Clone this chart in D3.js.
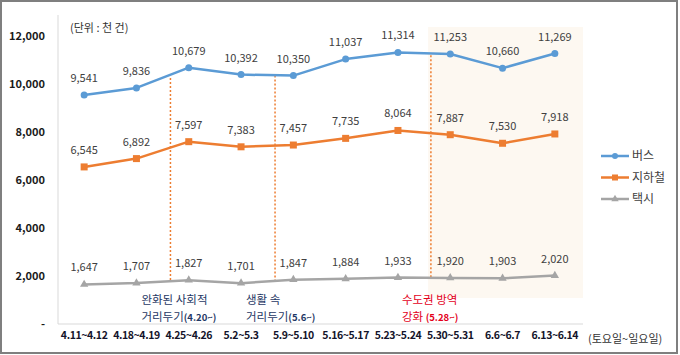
<!DOCTYPE html>
<html><head><meta charset="utf-8">
<script src="https://cdn.jsdelivr.net/npm/d3@7"></script>
<style>
html,body{margin:0;padding:0;background:#fff;}
text{font-family:"Noto Sans CJK KR","Noto Sans",sans-serif;}
</style></head>
<body>
<svg id="chart" width="680" height="355"></svg>
<script>
const categories = ["4.11~4.12","4.18~4.19","4.25~4.26","5.2~5.3","5.9~5.10","5.16~5.17","5.23~5.24","5.30~5.31","6.6~6.7","6.13~6.14"];
const bus    = [9541, 9836, 10679, 10392, 10350, 11037, 11314, 11253, 10660, 11269];
const subway = [6545, 6892, 7597, 7383, 7457, 7735, 8064, 7887, 7530, 7918];
const taxi   = [1647, 1707, 1827, 1701, 1847, 1884, 1933, 1920, 1903, 2020];
const yTicks = [0, 2000, 4000, 6000, 8000, 10000, 12000];
const seriesNames = ["버스", "지하철", "택시"];
// annotations: position as fractional category index, line top/bottom in data units
const events = [
  {pos: 1.65, topV: 10250, bottomV: 1750, lines: ["완화된 사회적", "거리두기"], note: "(4.20~)", color: "#1f3864"},
  {pos: 3.65, topV: 10350, bottomV: 1750, lines: ["생활 속", "거리두기"], note: "(5.6~)", color: "#1f3864"},
  {pos: 6.63, topV: 11200, bottomV: 1950, lines: ["수도권 방역", "강화 "], note: "(5.28~)", color: "#e3001b"}
];

(function(){
const svg = d3.select("#chart");
const W = 680, H = 355;
const pL = 58, pR = 581, pT = 15, pB = 324;

svg.append("rect").attr("x",1).attr("y",1).attr("width",W-4).attr("height",H-3)
  .attr("fill","#fff").attr("stroke","#7f7f7f").attr("stroke-width",2);

const x = d3.scaleBand().domain(categories).range([pL, pR]).padding(0);
const bw = x.bandwidth();
const cx = c => x(c) + bw/2;
const xi = d3.scaleLinear().domain([0, categories.length-1]).range([cx(categories[0]), cx(categories[categories.length-1])]);
const y = d3.scaleLinear().domain([0, 12000]).range([pB, pB - 12000*0.024]);

// shaded region
svg.append("rect")
  .attr("x", x(categories[7]) + 4).attr("y", 27)
  .attr("width", pR + 2 - (x(categories[7]) + 4)).attr("height", 298 - 27)
  .attr("fill", "#fdf8f1");

// axes
svg.append("line").attr("x1",pL).attr("x2",pL).attr("y1",pT).attr("y2",pB)
  .attr("stroke","#d9d9d9").attr("stroke-width",1);
svg.append("line").attr("x1",pL).attr("x2",pR+2).attr("y1",pB).attr("y2",pB)
  .attr("stroke","#d9d9d9").attr("stroke-width",1);

const yAxis = d3.axisLeft(y).tickValues(yTicks).tickSize(0)
  .tickFormat(d => d === 0 ? "-" : d3.format(",")(d));
const yg = svg.append("g").attr("transform", `translate(${pL-13},0)`).call(yAxis);
yg.select(".domain").remove();
yg.selectAll("text").attr("font-size", 11).attr("font-weight", "bold").attr("fill", "#1a1a1a").attr("dy","0.35em").attr("x",0);

const xAxis = d3.axisBottom(x).tickSize(0);
const xg = svg.append("g").attr("transform", `translate(0,${pB+8})`).call(xAxis);
xg.select(".domain").remove();
xg.selectAll("text").attr("font-size", 10.5).attr("letter-spacing", "-0.4px").attr("font-weight", "bold").attr("fill", "#14142b").attr("dy","0.71em").attr("y",0);

svg.append("text").attr("x", 588).attr("y", 343).attr("font-size", 11).attr("fill", "#333")
  .text("(토요일~일요일)");
svg.append("text").attr("x", 70).attr("y", 32).attr("font-size", 11).attr("fill", "#333")
  .text("(단위 : 천 건)");

// event dashed lines
events.forEach(e => {
  const px = xi(e.pos);
  svg.append("line").attr("x1",px).attr("x2",px).attr("y1",y(e.topV)).attr("y2",y(e.bottomV))
    .attr("stroke","#ed7d31").attr("stroke-width",1.5).attr("stroke-dasharray","2,2");
});

const colors = ["#5b9bd5", "#ed7d31", "#a5a5a5"];
const allSeries = [bus, subway, taxi];
const line = d3.line().x((d,i) => cx(categories[i])).y(d => y(d));

allSeries.forEach((s, k) => {
  const g = svg.append("g");
  g.append("path").datum(s).attr("d", line).attr("fill","none")
    .attr("stroke", colors[k]).attr("stroke-width", 2.5).attr("stroke-linejoin","round");
  s.forEach((v, i) => {
    const px = cx(categories[i]), py = y(v);
    if (k === 0) g.append("circle").attr("cx",px).attr("cy",py).attr("r",3.5).attr("fill",colors[k]);
    else if (k === 1) g.append("rect").attr("x",px-3.5).attr("y",py-3.5).attr("width",7).attr("height",7).attr("fill",colors[k]);
    else g.append("path").attr("d", d3.symbol(d3.symbolTriangle, 30)()).attr("transform",`translate(${px},${py})`).attr("fill",colors[k]);
    g.append("text").attr("x",px).attr("y",py-13).attr("text-anchor","middle")
      .attr("font-size",11).attr("fill","#404040").text(d3.format(",")(v));
  });
});

// event texts
events.forEach(e => {
  const px = xi(e.pos) - 29;
  svg.append("text").attr("x", px).attr("y", 304).attr("font-size", 11.5).attr("fill", e.color).text(e.lines[0]);
  const t2 = svg.append("text").attr("x", px).attr("y", 321).attr("font-size", 11.5).attr("fill", e.color);
  t2.append("tspan").text(e.lines[1]);
  t2.append("tspan").attr("font-size", 9.5).attr("font-weight","bold").text(e.note);
});

// legend
seriesNames.forEach((n, k) => {
  const ly = 156 + k*21.5;
  const g = svg.append("g");
  g.append("line").attr("x1",601).attr("x2",629).attr("y1",ly).attr("y2",ly).attr("stroke",colors[k]).attr("stroke-width",2.5);
  if (k === 0) g.append("circle").attr("cx",615).attr("cy",ly).attr("r",3).attr("fill",colors[k]);
  else if (k === 1) g.append("rect").attr("x",612).attr("y",ly-3).attr("width",6).attr("height",6).attr("fill",colors[k]);
  else g.append("path").attr("d", d3.symbol(d3.symbolTriangle, 24)()).attr("transform",`translate(615,${ly})`).attr("fill",colors[k]);
  g.append("text").attr("x",632).attr("y",ly).attr("dy","0.35em").attr("font-size",12).attr("fill","#404040").text(n);
});
})();
</script>
</body></html>
